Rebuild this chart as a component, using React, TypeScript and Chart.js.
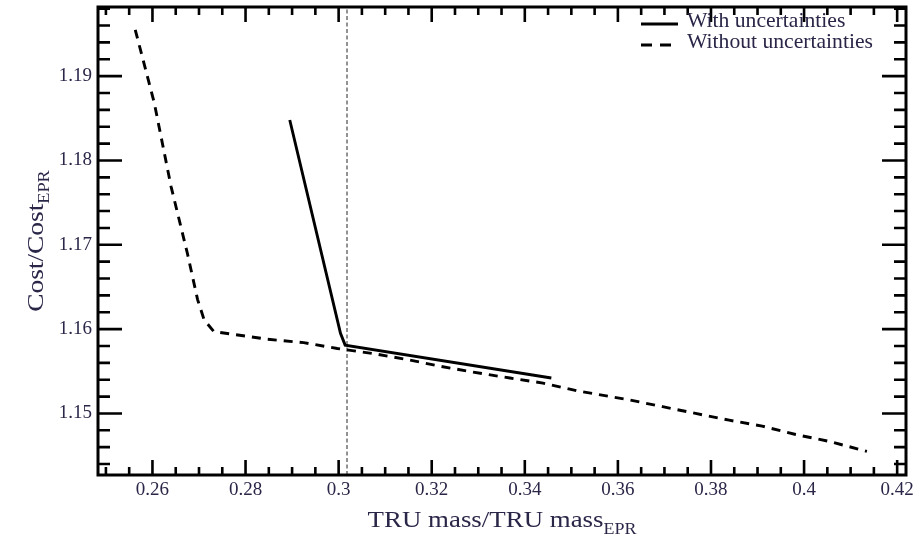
import React, { useEffect, useRef } from "react";
import { Chart, registerables } from "chart.js";

Chart.register(...registerables);

// Relative TRU mass (x) vs relative cost (y)
const withoutUncX = [
  0.2563, 0.2604, 0.264, 0.2675, 0.2697, 0.2711, 0.2732, 0.2847, 0.2925, 0.2997,
  0.3074, 0.3147, 0.3218, 0.3289, 0.3368, 0.3439, 0.3511, 0.3625, 0.3696, 0.3767,
  0.3839, 0.391, 0.3982, 0.4053, 0.4135,
];
const withoutUncY = [
  1.1955, 1.1868, 1.1769, 1.169, 1.1635, 1.1611, 1.1597, 1.1588, 1.1584, 1.1577,
  1.1571, 1.1564, 1.1556, 1.1549, 1.1542, 1.1536, 1.1527, 1.1516, 1.1508, 1.15,
  1.1492, 1.1485, 1.1475, 1.1467, 1.1455,
];
const withUncX = [0.2895, 0.3004, 0.3014, 0.3457];
const withUncY = [1.1848, 1.1595, 1.1581, 1.1542];

// Reference mass ratio marked with a vertical dotted line
const markerX = 0.3018;

const seriesNames = ["With uncertainties", "Without uncertainties"];

const xRange = [0.2483, 0.4219];
const yRange = [1.1427, 1.1982];
const xTicks = [0.26, 0.28, 0.3, 0.32, 0.34, 0.36, 0.38, 0.4, 0.42];
const xTickLabels = ["0.26", "0.28", "0.3", "0.32", "0.34", "0.36", "0.38", "0.4", "0.42"];
const yTicks = [1.15, 1.16, 1.17, 1.18, 1.19];
const yTickLabels = ["1.15", "1.16", "1.17", "1.18", "1.19"];
const xMinorStep = 0.005;
const yMinorStep = 0.002;

const SERIF = "'Liberation Serif', 'Times New Roman', serif";
const TEXT = "#2a2648";
const DASH: number[] = [9, 7];

function drawSubscripted(
  ctx: CanvasRenderingContext2D,
  main: string,
  sub: string,
  x: number,
  y: number,
  angle: number,
  size: number,
  subSize: number,
  drop: number,
  stretch: number
) {
  ctx.save();
  ctx.translate(x, y);
  ctx.rotate(angle);
  ctx.scale(stretch, 1);
  ctx.font = `${size}px ${SERIF}`;
  const w1 = ctx.measureText(main).width;
  ctx.font = `${subSize}px ${SERIF}`;
  const w2 = ctx.measureText(sub).width;
  const start = -(w1 + w2) / 2;
  ctx.fillStyle = TEXT;
  ctx.textAlign = "left";
  ctx.textBaseline = "alphabetic";
  ctx.font = `${size}px ${SERIF}`;
  ctx.fillText(main, start, 0);
  ctx.font = `${subSize}px ${SERIF}`;
  ctx.fillText(sub, start + w1, drop);
  ctx.restore();
}

function isMajor(v: number, majors: number[]) {
  return majors.some((m) => Math.abs(m - v) < 1e-6);
}

// Boxed frame with inward ticks on all four sides, legend and axis titles
const framePlugin = {
  id: "frameDecor",
  afterDraw(chart: any) {
    const ctx: CanvasRenderingContext2D = chart.ctx;
    const { left, right, top, bottom } = chart.chartArea;
    const xs = chart.scales.x;
    const ys = chart.scales.y;

    ctx.save();
    ctx.strokeStyle = "#000";
    ctx.lineCap = "butt";

    // x ticks (bottom and top)
    ctx.lineWidth = 2.6;
    const x0 = Math.ceil(xRange[0] / xMinorStep) * xMinorStep;
    for (let v = x0; v <= xRange[1] + 1e-9; v += xMinorStep) {
      const vv = Math.round(v * 1000) / 1000;
      const px = xs.getPixelForValue(vv);
      const len = isMajor(vv, xTicks) ? 15 : 8;
      ctx.beginPath();
      ctx.moveTo(px, bottom);
      ctx.lineTo(px, bottom - len);
      ctx.moveTo(px, top);
      ctx.lineTo(px, top + len);
      ctx.stroke();
    }
    // y ticks (left and right)
    const y0 = Math.ceil(yRange[0] / yMinorStep) * yMinorStep;
    for (let v = y0; v <= yRange[1] + 1e-9; v += yMinorStep) {
      const vv = Math.round(v * 1000) / 1000;
      const py = ys.getPixelForValue(vv);
      const len = isMajor(vv, yTicks) ? 24 : 12;
      ctx.beginPath();
      ctx.moveTo(left, py);
      ctx.lineTo(left + len, py);
      ctx.moveTo(right, py);
      ctx.lineTo(right - len, py);
      ctx.stroke();
    }

    // frame
    ctx.lineWidth = 3;
    ctx.strokeRect(left, top, right - left, bottom - top);

    // legend
    const sx0 = right - 265;
    const sx1 = right - 228;
    const rows = [top + 17, top + 38];
    ctx.lineWidth = 2.8;
    ctx.setLineDash([]);
    ctx.beginPath();
    ctx.moveTo(sx0, rows[0]);
    ctx.lineTo(sx1, rows[0]);
    ctx.stroke();
    ctx.setLineDash([11, 8]);
    ctx.beginPath();
    ctx.moveTo(sx0, rows[1]);
    ctx.lineTo(sx1, rows[1]);
    ctx.stroke();
    ctx.setLineDash([]);
    ctx.fillStyle = TEXT;
    ctx.textAlign = "left";
    ctx.textBaseline = "alphabetic";
    rows.forEach((ry, i) => {
      ctx.save();
      ctx.translate(right - 219, ry + 3);
      ctx.scale(1.03, 1);
      ctx.font = `21px ${SERIF}`;
      ctx.fillText(seriesNames[i], 0, 0);
      ctx.restore();
    });
    ctx.restore();

    // axis titles
    drawSubscripted(ctx, "TRU mass/TRU mass", "EPR", (left + right) / 2, 527, 0, 24, 16, 7, 1.12);
    drawSubscripted(ctx, "Cost/Cost", "EPR", 43, (top + bottom) / 2, -Math.PI / 2, 24, 16, 6, 1.14);
  },
};

export default function App() {
  const canvasRef = useRef<HTMLCanvasElement | null>(null);

  useEffect(() => {
    if (!canvasRef.current) return;
    const chart = new Chart(canvasRef.current, {
      type: "scatter",
      data: {
        datasets: [
          {
            label: seriesNames[0],
            data: withUncX.map((x, i) => ({ x, y: withUncY[i] })),
            showLine: true,
            borderColor: "#000",
            borderWidth: 2.9,
            pointRadius: 0,
            fill: false,
          },
          {
            label: seriesNames[1],
            data: withoutUncX.map((x, i) => ({ x, y: withoutUncY[i] })),
            showLine: true,
            borderColor: "#000",
            borderWidth: 2.9,
            borderDash: DASH,
            pointRadius: 0,
            fill: false,
          },
          {
            label: "marker",
            data: [
              { x: markerX, y: yRange[0] },
              { x: markerX, y: yRange[1] },
            ],
            showLine: true,
            borderColor: "#6f6f6f",
            borderWidth: 1.5,
            borderDash: [4, 2.5],
            pointRadius: 0,
            fill: false,
          },
        ],
      },
      options: {
        animation: false,
        responsive: false,
        devicePixelRatio: 1,
        layout: { padding: { top: 7, right: 8, left: 0, bottom: 0 } },
        plugins: {
          legend: { display: false },
          tooltip: { enabled: false },
        },
        scales: {
          x: {
            type: "linear",
            min: xRange[0],
            max: xRange[1],
            grid: { display: false, drawTicks: false },
            border: { display: false },
            afterBuildTicks: (scale: any) => {
              scale.ticks = xTicks.map((v) => ({ value: v }));
            },
            afterFit: (scale: any) => {
              scale.height = 66;
              scale.paddingLeft = 0;
              scale.paddingRight = 0;
            },
            ticks: {
              padding: 4,
              maxRotation: 0,
              autoSkip: false,
              color: TEXT,
              font: { family: SERIF, size: 19 },
              callback: (_v: any, i: number) => xTickLabels[i],
            },
          },
          y: {
            type: "linear",
            min: yRange[0],
            max: yRange[1],
            grid: { display: false, drawTicks: false },
            border: { display: false },
            afterBuildTicks: (scale: any) => {
              scale.ticks = yTicks.map((v) => ({ value: v }));
            },
            afterFit: (scale: any) => {
              scale.width = 98;
              scale.paddingTop = 0;
              scale.paddingBottom = 0;
            },
            ticks: {
              padding: 6,
              autoSkip: false,
              color: TEXT,
              font: { family: SERIF, size: 19 },
              callback: (_v: any, i: number) => yTickLabels[i],
            },
          },
        },
      },
      plugins: [framePlugin],
    });
    return () => chart.destroy();
  }, []);

  return (
    <div style={{ position: "fixed", left: 0, top: 0, width: 914, height: 541, background: "#fff" }}>
      <canvas ref={canvasRef} width={914} height={541} />
    </div>
  );
}
